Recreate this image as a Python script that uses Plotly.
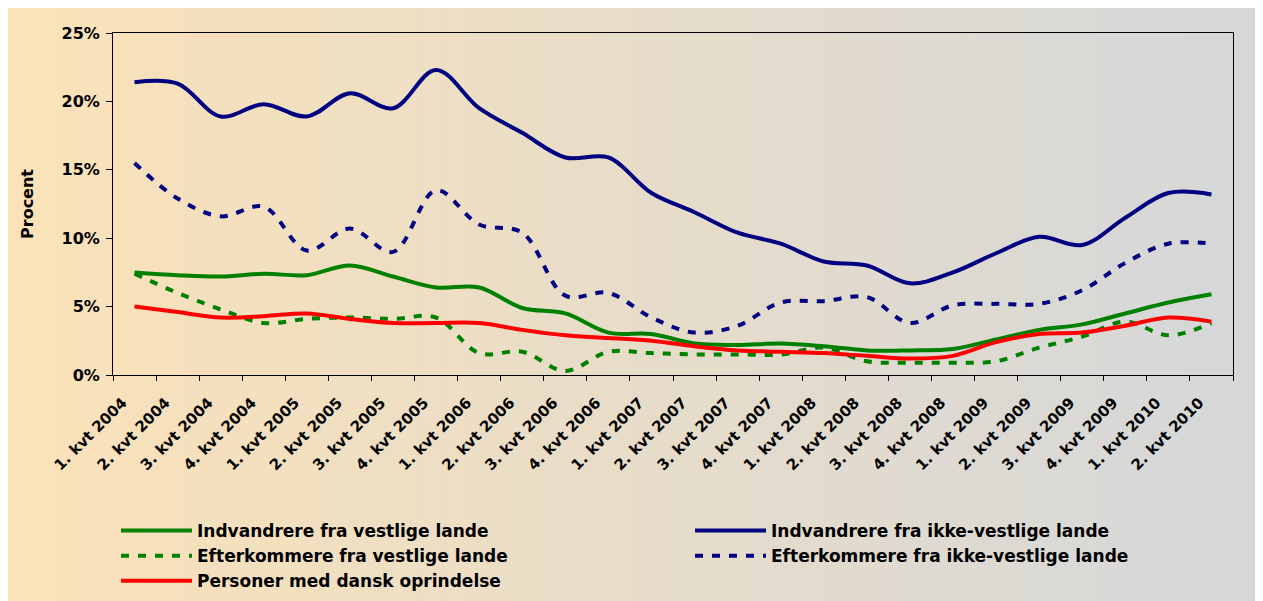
import plotly.graph_objects as go

quarters = [
    "1. kvt 2004", "2. kvt 2004", "3. kvt 2004", "4. kvt 2004",
    "1. kvt 2005", "2. kvt 2005", "3. kvt 2005", "4. kvt 2005",
    "1. kvt 2006", "2. kvt 2006", "3. kvt 2006", "4. kvt 2006",
    "1. kvt 2007", "2. kvt 2007", "3. kvt 2007", "4. kvt 2007",
    "1. kvt 2008", "2. kvt 2008", "3. kvt 2008", "4. kvt 2008",
    "1. kvt 2009", "2. kvt 2009", "3. kvt 2009", "4. kvt 2009",
    "1. kvt 2010", "2. kvt 2010",
]

indv_vestlige = [7.5, 7.3, 7.2, 7.4, 7.3, 8.0, 7.2, 6.4, 6.4, 4.9, 4.5, 3.1, 3.0,
                 2.3, 2.2, 2.3, 2.1, 1.8, 1.8, 1.9, 2.6, 3.3, 3.7, 4.5, 5.3, 5.9]
indv_ikke_vestlige = [21.4, 21.3, 18.9, 19.8, 18.9, 20.6, 19.5, 22.3, 19.5, 17.7, 15.9, 15.9, 13.3,
                      11.9, 10.4, 9.6, 8.3, 8.0, 6.7, 7.5, 8.9, 10.1, 9.5, 11.5, 13.3, 13.2]
efterk_vestlige = [7.4, 6.0, 4.8, 3.8, 4.1, 4.2, 4.1, 4.2, 1.6, 1.7, 0.3, 1.7, 1.6,
                   1.5, 1.5, 1.5, 2.0, 1.0, 0.9, 0.9, 1.0, 2.0, 2.8, 3.9, 2.9, 3.8]
efterk_ikke_vestlige = [15.5, 12.9, 11.6, 12.3, 9.1, 10.7, 9.0, 13.5, 11.0, 10.4, 5.8, 6.0, 4.2,
                        3.1, 3.6, 5.3, 5.4, 5.7, 3.8, 5.1, 5.2, 5.2, 6.2, 8.2, 9.6, 9.6]
dansk = [5.0, 4.6, 4.2, 4.3, 4.5, 4.1, 3.8, 3.8, 3.8, 3.3, 2.9, 2.7, 2.5,
         2.1, 1.8, 1.7, 1.6, 1.4, 1.2, 1.4, 2.4, 3.0, 3.1, 3.6, 4.2, 3.9]

y_ticks = [0, 5, 10, 15, 20, 25]

FONT = "DejaVu Sans"
NAVY = "#000080"
GREEN = "#008000"
RED = "#FF0000"
DASH = "8px,9px"

fig = go.Figure()

def add(name, values, color, dash, legend):
    fig.add_trace(go.Scatter(
        x=quarters, y=values, name=name, mode="lines",
        line=dict(color=color, width=4, dash=dash, shape="spline", smoothing=1.0),
        legend=legend,
    ))

add("Indvandrere fra vestlige lande", indv_vestlige, GREEN, "solid", "legend")
add("Indvandrere fra ikke-vestlige lande", indv_ikke_vestlige, NAVY, "solid", "legend2")
add("Efterkommere fra vestlige lande", efterk_vestlige, GREEN, DASH, "legend")
add("Efterkommere fra ikke-vestlige lande", efterk_ikke_vestlige, NAVY, DASH, "legend2")
add("Personer med dansk oprindelse", dansk, RED, "solid", "legend")

# The page body has an 8px margin, so the figure is sized/positioned to compensate.
OFF = 8
W, H = 1263 - OFF, 601 - OFF
ml, mr, mt, mb = 113 - OFF, 30, 33 - OFF, 226
pw, ph = W - ml - mr, H - mt - mb

# background gradient (peach -> grey) built from thin strips in paper coordinates
left_c = (251, 226, 184)
right_c = (212, 215, 218)
n = 140
shapes = []
for i in range(n):
    px0 = -2 + (W + 4) * i / n
    px1 = -2 + (W + 4) * (i + 1) / n + 0.6
    t = (px0 + px1) / 2 / W
    c = tuple(round(left_c[k] + (right_c[k] - left_c[k]) * t) for k in range(3))
    shapes.append(dict(
        type="rect", xref="paper", yref="paper", layer="below",
        x0=(px0 - ml) / pw, x1=(px1 - ml) / pw,
        y0=(H - mb - (H + 2)) / ph, y1=(H - mb - (-2)) / ph,
        fillcolor="rgb(%d,%d,%d)" % c, line=dict(width=0),
    ))

axis_font = dict(family=FONT, size=16, color="black", weight="bold")
legend_font = dict(family=FONT, size=17, color="black", weight="bold")
legend_top = (H - mb - (513 - OFF)) / ph

fig.update_layout(
    width=W, height=H,
    margin=dict(l=ml, r=mr, t=mt, b=mb, autoexpand=False),
    paper_bgcolor="white",
    plot_bgcolor="rgba(0,0,0,0)",
    shapes=shapes,
    font=dict(family=FONT, color="black"),
    xaxis=dict(
        type="category", range=[-0.5, len(quarters) - 0.5],
        tickson="boundaries", ticks="outside", ticklen=5, tickcolor="black",
        tickangle=-45, tickfont=dict(family=FONT, size=15, color="black", weight="bold"),
        ticklabelstandoff=12, ticklabelshift=-12,
        showline=True, linecolor="black", linewidth=1, mirror=True,
        showgrid=False, zeroline=False, automargin=False,
    ),
    yaxis=dict(
        range=[0, 25], tickvals=y_ticks, ticktext=["%d%%" % v for v in y_ticks],
        ticks="outside", ticklen=6, tickcolor="black", tickfont=axis_font,
        ticklabelstandoff=3,
        showline=True, linecolor="black", linewidth=1, mirror=True,
        showgrid=False, zeroline=False, automargin=False,
        title=dict(text="Procent", font=axis_font, standoff=23),
    ),
    legend=dict(
        x=(116 - 113) / pw, xanchor="left", y=legend_top, yanchor="top",
        orientation="v", bgcolor="rgba(0,0,0,0)", borderwidth=0,
        itemwidth=71, font=legend_font, traceorder="normal",
    ),
    legend2=dict(
        x=(690 - 113) / pw, xanchor="left", y=legend_top, yanchor="top",
        orientation="v", bgcolor="rgba(0,0,0,0)", borderwidth=0,
        itemwidth=71, font=legend_font, traceorder="normal",
    ),
    showlegend=True,
)

fig.write_html("out.html")
